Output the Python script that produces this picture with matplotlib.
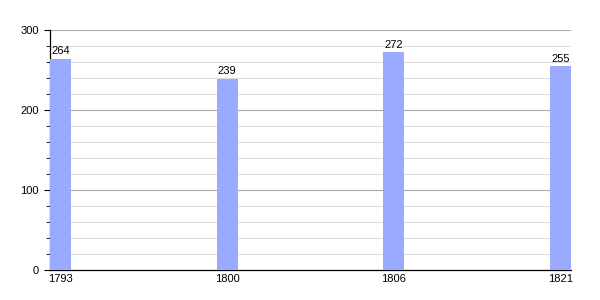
import matplotlib
matplotlib.use("Agg")
import matplotlib.pyplot as plt
from matplotlib.ticker import MultipleLocator

plt.rcParams["font.family"] = ["Liberation Sans", "DejaVu Sans"]

years = ["1793", "1800", "1806", "1821"]
values = [264, 239, 272, 255]

fig = plt.figure(figsize=(6, 3), dpi=100)
ax = fig.add_axes([50/600, 0.1, 521/600, 0.8])
x = list(range(len(years)))
ax.bar(x, values, width=0.126, color="#99aaff", zorder=3)
for xi, v in zip(x, values):
    ax.text(xi, v + 3, str(v), ha="center", va="bottom", fontsize=8, zorder=4)

ax.set_xlim(-0.063, 3.063)
ax.set_ylim(0, 300)
ax.set_xticks(x)
ax.set_xticklabels(years, fontsize=8)
ax.tick_params(axis="x", length=0, pad=3)
ax.yaxis.set_major_locator(MultipleLocator(100))
ax.yaxis.set_minor_locator(MultipleLocator(20))
ax.tick_params(axis="y", which="major", length=4, labelsize=8, pad=4)
ax.tick_params(axis="y", which="minor", length=3)
ax.grid(axis="y", which="major", color="#aaaaaa", linewidth=0.8, zorder=0)
ax.grid(axis="y", which="minor", color="#dddddd", linewidth=0.8, zorder=0)
for s in ["top", "right"]:
    ax.spines[s].set_visible(False)
ax.spines["left"].set_linewidth(0.9)
ax.spines["bottom"].set_linewidth(0.9)

fig.savefig("out.png", dpi=100)
